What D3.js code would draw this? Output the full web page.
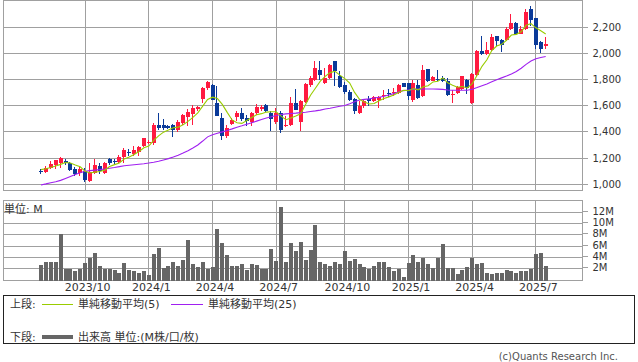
<!DOCTYPE html>
<html>
<head>
<meta charset="utf-8">
<script src="https://cdn.jsdelivr.net/npm/d3@7"></script>
<style>
	body { margin: 0; background: #fff; }
	text { font-family: "DejaVu Sans", "Noto Sans CJK JP", sans-serif; fill: #333; }
	.crisp { shape-rendering: crispEdges; }
</style>
</head>
<body>
<svg id="chart"></svg>
<script>
	// weekly candles, 2023/8 .. 2025/7
	let open = [1105,1097,1126,1151,1160,1175,1160,1120,1085,1105,
		1022,1085,1140,1085,1190,1180,1168,1205,1250,1233,
		1243,1290,1315,1315,1456,1456,1443,1449,1418,1464,
		1515,1536,1572,1649,1731,1760,1620,1505,1370,1461,
		1513,1543,1505,1472,1543,1574,1607,1543,1472,1543,
		1445,1451,1620,1472,1625,1760,1798,1870,1773,1811,
		1938,1824,1760,1701,1650,1543,1594,1650,1632,1645,
		1676,1700,1693,1696,1773,1773,1640,1760,1670,1880,
		1790,1805,1811,1785,1685,1696,1727,1798,1620,1836,
		2015,1997,2023,2135,2099,2099,2186,2232,2150,2186,
		2339,2270,2084,2056]
	let high = [1120,1141,1174,1187,1205,1192,1170,1130,1130,1125,
		1160,1190,1160,1170,1200,1195,1225,1275,1270,1290,
		1295,1355,1335,1464,1541,1495,1456,1460,1490,1535,
		1572,1602,1600,1745,1785,1762,1752,1543,1454,1505,
		1556,1581,1530,1550,1615,1607,1612,1556,1581,1556,
		1518,1663,1727,1645,1773,1824,1938,1938,1887,1920,
		1940,1862,1780,1722,1658,1632,1640,1670,1676,1676,
		1722,1727,1734,1765,1775,1775,1798,1798,1908,1880,
		1824,1870,1830,1811,1722,1750,1830,1800,1850,2023,
		2130,2084,2148,2135,2110,2201,2303,2237,2206,2334,
		2364,2270,2091,2125]
	let low = [1080,1090,1118,1120,1122,1150,1100,1065,1065,1018,
		1018,1075,1080,1075,1150,1155,1160,1165,1218,1218,
		1218,1285,1305,1302,1418,1418,1420,1362,1400,1450,
		1444,1450,1560,1618,1720,1640,1518,1339,1352,1454,
		1480,1480,1446,1441,1530,1556,1550,1410,1462,1395,
		1436,1446,1564,1403,1620,1742,1785,1798,1768,1800,
		1752,1734,1690,1632,1538,1538,1585,1594,1625,1581,
		1645,1665,1670,1690,1740,1640,1625,1653,1665,1778,
		1785,1785,1778,1676,1620,1690,1722,1691,1615,1829,
		1990,1990,2020,2053,2008,2091,2176,2143,2143,2176,
		2206,2033,2002,2033]
	let close = [1095,1128,1156,1182,1200,1163,1110,1082,1115,1030,
		1095,1145,1105,1165,1165,1172,1210,1258,1240,1259,
		1285,1351,1325,1456,1431,1426,1432,1413,1479,1525,
		1551,1582,1587,1736,1777,1645,1523,1370,1428,1487,
		1543,1497,1480,1543,1589,1587,1556,1497,1543,1416,
		1455,1620,1569,1632,1768,1811,1887,1836,1811,1913,
		1862,1742,1701,1645,1556,1599,1632,1632,1663,1665,
		1685,1692,1705,1760,1742,1670,1773,1658,1875,1785,
		1816,1795,1790,1683,1691,1742,1824,1734,1844,2015,
		1997,2028,2125,2092,2066,2186,2227,2150,2186,2316,
		2252,2066,2033,2069]
	// volume in millions
	let volume = [2.65,3.2,3.2,3.2,8.1,1.95,1.95,1.65,1.95,3.0,
		4.0,4.75,2.55,1.95,1.95,1.75,1.25,3.05,1.76,1.62,
		1.28,1.62,0.88,4.6,5.65,2.25,2.5,3.2,2.5,3.5,
		7.1,2.95,2.35,3.2,1.9,2.35,9.0,6.55,4.4,2.5,
		2.5,2.9,1.8,2.9,2.7,1.9,1.9,5.5,3.4,12.9,
		3.2,6.6,5.2,6.8,3.6,5.35,9.7,3.2,2.8,2.5,
		3.2,2.8,5.2,3.4,3.75,2.8,2.35,2.05,2.5,3.2,
		3.2,2.35,1.7,2.0,0.6,3.0,4.4,3.2,4.0,2.8,
		2.2,3.95,6.35,2.2,2.2,1.05,1.8,2.35,3.95,2.8,
		3.05,1.35,1.05,1.25,1.25,1.8,1.65,1.25,1.65,1.65,
		2.0,4.6,4.75,2.5]
	let ma5 = [1112,1118,1128,1140,1152,1166,1162,1147,1134,1100,
		1086,1093,1098,1108,1135,1150,1163,1194,1209,1228,
		1250,1279,1292,1335,1370,1398,1414,1432,1436,1455,
		1480,1510,1545,1596,1647,1665,1654,1610,1549,1491,
		1470,1465,1487,1510,1530,1539,1551,1554,1554,1520,
		1493,1506,1521,1538,1609,1680,1733,1787,1823,1852,
		1862,1833,1806,1773,1701,1649,1627,1613,1616,1638,
		1655,1667,1682,1701,1717,1714,1730,1721,1744,1752,
		1781,1786,1812,1774,1755,1740,1746,1735,1767,1832,
		1900,1950,2020,2055,2068,2099,2139,2144,2163,2213,
		2226,2194,2171,2147]
	let ma25 = [995,1003,1012,1020,1030,1045,1060,1075,1088,1100,
		1104,1108,1112,1117,1122,1128,1135,1141,1145,1149,
		1153,1157,1162,1168,1176,1186,1196,1208,1222,1238,
		1256,1277,1300,1330,1362,1378,1390,1400,1411,1423,
		1436,1446,1458,1470,1482,1494,1506,1516,1525,1532,
		1537,1540,1543,1547,1550,1555,1560,1566,1574,1580,
		1588,1595,1601,1615,1630,1643,1648,1652,1658,1664,
		1672,1682,1692,1704,1715,1720,1724,1726,1727,1727,
		1727,1726,1724,1720,1718,1717,1717,1718,1725,1738,
		1752,1766,1782,1798,1812,1826,1842,1860,1885,1915,
		1940,1958,1968,1975]

	let dateTicks = [9,22,35,48,62,75,88,101]
	let dateLabels = ["2023/10","2024/1","2024/4","2024/7","2024/10","2025/1","2025/4","2025/7"]
	let priceTicks = [1000,1200,1400,1600,1800,2000,2200]
	let volumeTicks = [2,4,6,8,10,12]

	let width = 638, height = 362
	let left = 3.5, right = 582.5
	let gridColor = "#a0a0a0"
	let upColor = "#ff1a40", downColor = "#0a3a99"

	let chart = d3.select("#chart").attr("width", width).attr("height", height)
	chart.append("rect").attr("width", width).attr("height", height).attr("fill", "#fff")

	let n = close.length
	let x = d3.scaleLinear().domain([0, n - 1]).range([41, 545.7])
	let yPrice = d3.scaleLinear().domain([1000, 2400]).range([184.3, 0.8])
	let yVol = d3.scaleLinear().domain([0, 14]).range([280.3, 200.7])
	let snap = v => Math.floor(v) + 0.5

	//grids
	function grid(g, yScale, ticks, top, bottom) {
		g.selectAll("line.h").data(ticks).enter().append("line")
			.attr("class", "crisp")
			.attr("x1", left).attr("x2", right)
			.attr("y1", d => snap(yScale(d))).attr("y2", d => snap(yScale(d)))
			.attr("stroke", gridColor)
		g.selectAll("line.v").data(dateTicks).enter().append("line")
			.attr("class", "crisp")
			.attr("x1", d => snap(x(d))).attr("x2", d => snap(x(d)))
			.attr("y1", top).attr("y2", bottom)
			.attr("stroke", gridColor)
		g.append("rect").attr("class", "crisp")
			.attr("x", left).attr("y", top)
			.attr("width", right - left).attr("height", bottom - top)
			.attr("fill", "none").attr("stroke", gridColor)
	}

	let priceG = chart.append("g")
	grid(priceG, yPrice, priceTicks, 0.5, 190.5)
	let volG = chart.append("g")
	grid(volG, yVol, volumeTicks, 200.5, 280.5)

	// right axes
	let priceAxis = chart.append("g")
		.attr("transform", "translate(" + right + ",0)")
		.call(d3.axisRight(yPrice).tickValues(priceTicks).tickSize(5).tickPadding(5).tickFormat(d3.format(",")))
	let volAxis = chart.append("g")
		.attr("transform", "translate(" + right + ",0)")
		.call(d3.axisRight(yVol).tickValues(volumeTicks).tickSize(5).tickPadding(5).tickFormat(d => d + "M"))
	chart.selectAll(".domain").remove()
	chart.selectAll(".tick line").attr("stroke", gridColor).attr("class", "crisp")
	priceAxis.selectAll(".tick").attr("transform", d => "translate(0," + snap(yPrice(d)) + ")")
	volAxis.selectAll(".tick").attr("transform", d => "translate(0," + (snap(yVol(d)) - 1) + ")")
	chart.selectAll(".tick text").attr("font-size", 10).attr("fill", "#333")
		.style("font-family", '"DejaVu Sans", sans-serif')

	// date axis
	let dateAxis = chart.append("g")
		.attr("transform", "translate(2,280)")
		.call(d3.axisBottom(x).tickValues(dateTicks).tickSize(0).tickPadding(3).tickFormat((d, i) => dateLabels[i]))
	dateAxis.select(".domain").remove()
	dateAxis.selectAll("text").attr("font-size", 11).attr("fill", "#333")
		.style("font-family", '"DejaVu Sans", sans-serif')

	// volume bars
	chart.append("g").selectAll("rect").data(volume).enter().append("rect")
		.attr("class", "crisp")
		.attr("x", (d, i) => Math.round(x(i)) - 2)
		.attr("width", 4)
		.attr("y", d => yVol(d))
		.attr("height", d => 280.5 - yVol(d))
		.attr("fill", "#666")

	// candles
	let candles = chart.append("g").selectAll("g").data(close).enter().append("g")
	candles.append("line")
		.attr("class", "crisp")
		.attr("x1", (d, i) => Math.round(x(i)) - 0.5).attr("x2", (d, i) => Math.round(x(i)) - 0.5)
		.attr("y1", (d, i) => yPrice(high[i])).attr("y2", (d, i) => yPrice(low[i]))
		.attr("stroke", (d, i) => d >= open[i] ? upColor : downColor)
	candles.append("rect")
		.attr("class", "crisp")
		.attr("x", (d, i) => Math.round(x(i)) - 2)
		.attr("width", 4)
		.attr("y", (d, i) => yPrice(Math.max(d, open[i])))
		.attr("height", (d, i) => Math.max(1, Math.abs(yPrice(d) - yPrice(open[i]))))
		.attr("fill", (d, i) => d >= open[i] ? upColor : downColor)

	// moving averages
	let line = d3.line().x((d, i) => x(i)).y(d => yPrice(d))
	chart.append("path").attr("d", line(ma25)).attr("fill", "none").attr("stroke", "#a020f0").attr("stroke-width", 1.1)
	chart.append("path").attr("d", line(ma5)).attr("fill", "none").attr("stroke", "#99cc00").attr("stroke-width", 1.1)

	chart.append("text").attr("x", 4).attr("y", 213).attr("font-size", 11).text("単位: M")

	// legend
	let legend = chart.append("g")
	legend.append("rect").attr("class", "crisp")
		.attr("x", 3.5).attr("y", 295.5).attr("width", 631).attr("height", 48)
		.attr("fill", "none").attr("stroke", "#222")
	legend.append("text").attr("x", 10).attr("y", 308).attr("font-size", 11).text("上段:")
	legend.append("line").attr("class", "crisp").attr("x1", 42).attr("x2", 73).attr("y1", 304.5).attr("y2", 304.5).attr("stroke", "#99cc00")
	legend.append("text").attr("x", 78).attr("y", 308).attr("font-size", 11).text("単純移動平均(5)")
	legend.append("line").attr("class", "crisp").attr("x1", 171).attr("x2", 203).attr("y1", 304.5).attr("y2", 304.5).attr("stroke", "#a020f0")
	legend.append("text").attr("x", 208).attr("y", 308).attr("font-size", 11).text("単純移動平均(25)")
	legend.append("text").attr("x", 10).attr("y", 341).attr("font-size", 11).text("下段:")
	legend.append("rect").attr("class", "crisp").attr("x", 42).attr("y", 335).attr("width", 31).attr("height", 4).attr("fill", "#666")
	legend.append("text").attr("x", 78).attr("y", 341).attr("font-size", 11).text("出来高 単位:(M株/口/枚)")

	chart.append("text").attr("x", 618).attr("y", 360).attr("text-anchor", "end")
		.attr("font-size", 10).attr("fill", "#555").style("fill", "#555").text("(c)Quants Research Inc.")
</script>
</body>
</html>
